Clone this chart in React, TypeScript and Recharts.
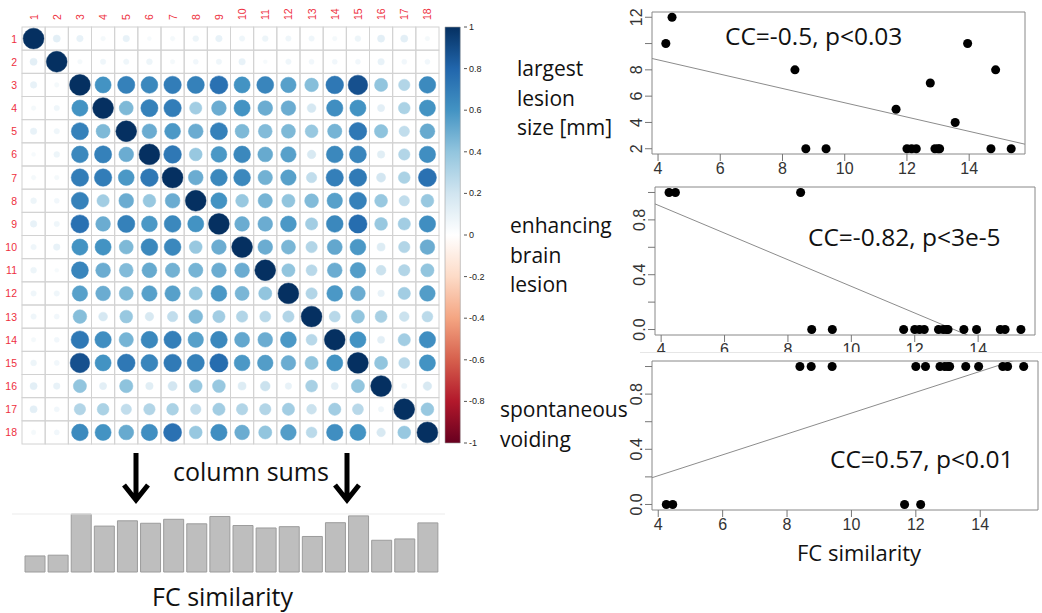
import React from 'react';
import {
  ScatterChart,
  Scatter,
  XAxis,
  YAxis,
  ReferenceArea,
  ReferenceLine,
  BarChart,
  Bar,
} from 'recharts';

// ---------------- data ----------------
const varIds = [1, 2, 3, 4, 5, 6, 7, 8, 9, 10, 11, 12, 13, 14, 15, 16, 17, 18];

const corrMatrix = [
  [1, .12, .10, .05, .10, .04, .05, .08, .10, .07, .08, .07, .07, .05, .08, .12, .12, .05],
  [.12, 1, .05, .07, .07, .08, .05, .06, .07, .10, .04, .07, .06, .06, .06, .10, .06, .06],
  [.10, .05, 1, .60, .68, .65, .70, .68, .75, .60, .66, .55, .43, .72, .88, .40, .30, .64],
  [.05, .07, .60, 1, .45, .68, .70, .35, .50, .60, .50, .50, .18, .62, .60, .12, .32, .60],
  [.10, .07, .68, .45, 1, .50, .58, .50, .68, .45, .44, .45, .38, .47, .72, .41, .25, .51],
  [.04, .08, .65, .68, .50, 1, .72, .38, .58, .65, .51, .55, .17, .65, .66, .13, .30, .62],
  [.05, .05, .70, .70, .58, .72, 1, .50, .65, .65, .48, .55, .25, .69, .71, .19, .32, .75],
  [.08, .06, .68, .35, .50, .38, .50, 1, .60, .38, .47, .40, .44, .55, .68, .38, .25, .38],
  [.10, .07, .75, .50, .68, .58, .65, .60, 1, .50, .50, .58, .35, .65, .77, .38, .35, .62],
  [.07, .10, .60, .60, .45, .65, .65, .38, .50, 1, .50, .46, .30, .52, .58, .15, .30, .50],
  [.08, .04, .66, .50, .44, .51, .48, .47, .50, .50, 1, .40, .28, .50, .56, .22, .30, .40],
  [.07, .07, .55, .50, .45, .55, .55, .40, .58, .46, .40, 1, .30, .58, .50, .10, .35, .56],
  [.07, .06, .43, .18, .38, .17, .25, .44, .35, .30, .28, .30, 1, .28, .40, .33, .22, .27],
  [.05, .06, .72, .62, .47, .65, .69, .55, .65, .52, .50, .58, .28, 1, .60, .12, .35, .62],
  [.08, .06, .88, .60, .72, .66, .71, .68, .77, .58, .56, .50, .40, .60, 1, .40, .28, .60],
  [.12, .10, .40, .12, .41, .13, .19, .38, .38, .15, .22, .10, .33, .12, .40, 1, .07, .17],
  [.12, .06, .30, .32, .25, .30, .32, .25, .35, .30, .30, .35, .22, .35, .28, .07, 1, .38],
  [.05, .06, .64, .60, .51, .62, .75, .38, .62, .50, .40, .56, .27, .62, .60, .17, .38, 1],
];

// FC similarity (column sums) per subject / column
const fcSimilarity = [4.25, 4.45, 15.35, 12.15, 13.55, 12.9, 13.95, 12.75, 14.7, 12.3, 11.65, 12.0, 9.4, 13.05, 14.85, 8.4, 8.75, 13.0];
const lesionSize = [10, 12, 2, 2, 4, 2, 10, 7, 2, 2, 5, 2, 2, 2, 8, 8, 2, 2];
const enhancingLesion = [1, 1, 0, 0, 0, 0, 0, 0, 0, 0, 0, 0, 0, 0, 0, 1, 0, 0];
const spontaneousVoiding = [0, 0, 1, 0, 1, 1, 1, 1, 1, 1, 0, 1, 1, 1, 1, 1, 1, 1];

const colorbarTicks = [1, 0.8, 0.6, 0.4, 0.2, 0, -0.2, -0.4, -0.6, -0.8, -1];
const scatterXTicks = [4, 6, 8, 10, 12, 14];
const lesionTicks = [2, 4, 6, 8, 10, 12];
const lesionTickLabels = ['2', '4', '6', '8', '', '12'];
const binaryTicks = [0, 0.2, 0.4, 0.6, 0.8, 1];
const binaryTickLabels = ['0.0', '', '0.4', '', '0.8', ''];

// ---------------- styling helpers ----------------
const RDBU = ['#67001F', '#B2182B', '#D6604D', '#F4A582', '#FDDBC7', '#FFFFFF', '#D1E5F0', '#92C5DE', '#4393C3', '#2166AC', '#053061'];

function hexToRgb(h: string) {
  return [parseInt(h.slice(1, 3), 16), parseInt(h.slice(3, 5), 16), parseInt(h.slice(5, 7), 16)];
}
function corrColor(v: number) {
  const t = ((v + 1) / 2) * 10;
  const i = Math.max(0, Math.min(9, Math.floor(t)));
  const f = t - i;
  const a = hexToRgb(RDBU[i]);
  const b = hexToRgb(RDBU[i + 1]);
  const c = a.map((x, k) => Math.round(x + (b[k] - x) * f));
  return `rgb(${c[0]},${c[1]},${c[2]})`;
}

const TEXT_FONT = "'Open Sans', 'Noto Sans', sans-serif";
const R_FONT = "'Liberation Sans', Arial, sans-serif";
const LABEL_RED = '#ee3040';

// ---------------- corrplot ----------------
const CORR_PLOT = { left: 22, top: 27, size: 417 };
const CELL = CORR_PLOT.size / 18;

const corrCells = corrMatrix.flatMap((row, r) =>
  row.map((v, c) => ({ col: varIds[c], row: varIds[r], v }))
);

const CorrCell = (props: any) => {
  const { cx, cy, payload } = props;
  const v = payload.v;
  const rad = 0.45 * CELL * Math.sqrt(Math.abs(v));
  return (
    <g>
      <rect x={cx - CELL / 2} y={cy - CELL / 2} width={CELL} height={CELL} fill="none" stroke="#d2d2d2" strokeWidth={1} />
      <circle cx={cx} cy={cy} r={rad} fill={corrColor(v)} stroke={corrColor(v)} strokeWidth={0.5} />
    </g>
  );
};

const ColLabel = (props: any) => {
  const { x, payload } = props;
  const y0 = CORR_PLOT.top - 7;
  return (
    <text
      x={x}
      y={y0}
      transform={`rotate(-90 ${x} ${y0})`}
      textAnchor="start"
      dominantBaseline="central"
      fontSize={10.5}
      fontFamily={R_FONT}
      fill={LABEL_RED}
    >
      {payload.value}
    </text>
  );
};

const RowLabel = (props: any) => {
  const { y, payload } = props;
  return (
    <text x={CORR_PLOT.left - 5} y={y} textAnchor="end" dominantBaseline="central" fontSize={10.5} fontFamily={R_FONT} fill={LABEL_RED}>
      {payload.value}
    </text>
  );
};

const CorrPlot = () => (
  <div style={{ position: 'absolute', left: 0, top: 0 }}>
    <ScatterChart width={450} height={450} margin={{ top: 0, right: 450 - CORR_PLOT.left - CORR_PLOT.size, bottom: 450 - CORR_PLOT.top - CORR_PLOT.size, left: 0 }}>
      <XAxis
        type="number"
        dataKey="col"
        orientation="top"
        domain={[0.5, 18.5]}
        ticks={varIds}
        interval={0}
        height={CORR_PLOT.top}
        axisLine={false}
        tickLine={false}
        tickSize={0}
        tickMargin={0}
        tick={<ColLabel />}
      />
      <YAxis
        type="number"
        dataKey="row"
        reversed
        domain={[0.5, 18.5]}
        ticks={varIds}
        interval={0}
        width={CORR_PLOT.left}
        axisLine={false}
        tickLine={false}
        tickSize={0}
        tickMargin={0}
        tick={<RowLabel />}
      />
      <Scatter data={corrCells} shape={CorrCell} isAnimationActive={false} />
    </ScatterChart>
  </div>
);

// ---------------- colorbar ----------------
const colorbarData = [{ name: 'corr', range: [-1, 1] }];

const CbTick = (props: any) => {
  const { x, y, payload } = props;
  return (
    <g>
      <line x1={x + 3} x2={x + 6} y1={y} y2={y} stroke="#555" strokeWidth={1} />
      <text x={x + 8} y={y} dominantBaseline="central" fontSize={9} fontFamily={R_FONT} fill="#222">
        {String(payload.value)}
      </text>
    </g>
  );
};

const ColorBar = () => (
  <div style={{ position: 'absolute', left: 444, top: 0 }}>
    <BarChart width={60} height={450} data={colorbarData} margin={{ top: 27, right: 0, bottom: 7, left: 0 }} barCategoryGap={0}>
      <defs>
        <linearGradient id="cbGrad" x1="0" y1="0" x2="0" y2="1">
          {RDBU.slice().reverse().map((c, i) => (
            <stop key={i} offset={`${i * 10}%`} stopColor={c} />
          ))}
        </linearGradient>
      </defs>
      <XAxis dataKey="name" hide />
      <YAxis
        orientation="right"
        type="number"
        domain={[-1, 1]}
        ticks={colorbarTicks}
        interval={0}
        width={43}
        axisLine={false}
        tickLine={false}
        tickSize={0}
        tickMargin={0}
        tick={<CbTick />}
      />
      <Bar dataKey="range" fill="url(#cbGrad)" stroke="#a0a0a0" strokeWidth={0.6} barSize={17} isAnimationActive={false} />
    </BarChart>
  </div>
);

// ---------------- column sums bar chart ----------------
const fcBars = fcSimilarity.map((fc, i) => ({ col: varIds[i], fc }));
const fcMax = Math.max(...fcSimilarity);

const ColumnSums = () => (
  <div style={{ position: 'absolute', left: 0, top: 505 }}>
    <BarChart width={460} height={80} data={fcBars} margin={{ top: 9, right: 15, bottom: 13, left: 12 }}>
      <XAxis dataKey="col" hide padding={{ left: 11, right: 6 }} />
      <YAxis hide domain={[0, fcMax]} />
      <ReferenceLine y={fcMax} stroke="#ebebeb" strokeWidth={1} />
      <Bar dataKey="fc" fill="#bebebe" stroke="#9c9c9c" strokeWidth={1} barSize={20} isAnimationActive={false} />
    </BarChart>
  </div>
);

// ---------------- scatter panels ----------------
function rangePad(vals: number[]) {
  const mn = Math.min(...vals);
  const mx = Math.max(...vals);
  const p = (mx - mn) * 0.04;
  return [mn - p, mx + p];
}
function olsFit(xs: number[], ys: number[]) {
  const n = xs.length;
  const mx = xs.reduce((a, b) => a + b, 0) / n;
  const my = ys.reduce((a, b) => a + b, 0) / n;
  let sxy = 0;
  let sxx = 0;
  for (let i = 0; i < n; i++) {
    sxy += (xs[i] - mx) * (ys[i] - my);
    sxx += (xs[i] - mx) * (xs[i] - mx);
  }
  const b = sxy / sxx;
  return { a: my - b * mx, b };
}

const RotYTick = (props: any) => {
  const { x, y, payload, labels, ticks } = props;
  const idx = ticks.indexOf(payload.value);
  const label = labels[idx];
  if (!label) return null;
  return (
    <text x={x} y={y} transform={`rotate(-90 ${x} ${y})`} textAnchor="middle" fontSize={16} fontFamily={R_FONT} fill="#333">
      {label}
    </text>
  );
};

type PanelProps = {
  box: { left: number; top: number; right: number; bottom: number };
  ys: number[];
  yTicks: number[];
  yLabels: string[];
};

const ScatterPanel = ({ box, ys, yTicks, yLabels }: PanelProps) => {
  const yAxisW = 40;
  const padTop = 10;
  const padRight = 4;
  const xAxisH = 30;
  const width = box.right - box.left + yAxisW + padRight;
  const height = box.bottom - box.top + padTop + xAxisH;
  const xDom = rangePad(fcSimilarity);
  const yDom = rangePad(ys);
  const pts = fcSimilarity.map((x, i) => ({ x, y: ys[i] }));
  const fit = olsFit(fcSimilarity, ys);
  return (
    <div style={{ position: 'absolute', left: box.left - yAxisW, top: box.top - padTop }}>
      <ScatterChart width={width} height={height} margin={{ top: padTop, right: padRight, bottom: 0, left: 0 }}>
        <XAxis
          type="number"
          dataKey="x"
          domain={xDom}
          allowDataOverflow
          ticks={scatterXTicks}
          interval={0}
          height={xAxisH}
          axisLine={false}
          tickLine={{ stroke: '#777' }}
          tickSize={7}
          tickMargin={2}
          tick={{ fontSize: 16, fontFamily: R_FONT, fill: '#333' }}
        />
        <YAxis
          type="number"
          dataKey="y"
          domain={yDom}
          allowDataOverflow
          ticks={yTicks}
          interval={0}
          width={yAxisW}
          axisLine={false}
          tickLine={{ stroke: '#777' }}
          tickSize={7}
          tickMargin={3}
          tick={<RotYTick labels={yLabels} ticks={yTicks} />}
        />
        <ReferenceArea x1={xDom[0]} x2={xDom[1]} y1={yDom[0]} y2={yDom[1]} fill="none" fillOpacity={0} stroke="#888" strokeWidth={1} ifOverflow="visible" />
        <ReferenceLine
          segment={[
            { x: xDom[0], y: fit.a + fit.b * xDom[0] },
            { x: xDom[1], y: fit.a + fit.b * xDom[1] },
          ]}
          stroke="#8c8c8c"
          strokeWidth={1}
          ifOverflow="hidden"
        />
        <Scatter data={pts} fill="#000" isAnimationActive={false} />
      </ScatterChart>
    </div>
  );
};

// ---------------- annotations ----------------
const T = (p: any) => (
  <text fontFamily={TEXT_FONT} fill="#111" {...p} />
);

const Annotations = () => (
  <svg width={1042} height={613} style={{ position: 'absolute', left: 0, top: 0, pointerEvents: 'none' }}>
    {/* arrows */}
    <g stroke="#000" strokeWidth={5} fill="none" strokeLinejoin="miter">
      <path d="M136 453 L136 499 M124 485 L136 500 L148 485" />
      <path d="M347 453 L347 499 M335 485 L347 500 L359 485" />
    </g>
    <T x={173} y={481} fontSize={25}>column sums</T>
    <T x={152} y={606} fontSize={25}>FC similarity</T>

    <T x={517} y={76} fontSize={21}>largest</T>
    <T x={517} y={105.5} fontSize={21}>lesion</T>
    <T x={517} y={135} fontSize={21}>size [mm]</T>
    <T x={725} y={45} fontSize={24.5}>CC=-0.5, p&lt;0.03</T>

    <T x={510} y={233} fontSize={21}>enhancing</T>
    <T x={510} y={262.5} fontSize={21}>brain</T>
    <T x={510} y={292} fontSize={21}>lesion</T>
    <T x={808} y={246} fontSize={24.5}>CC=-0.82, p&lt;3e-5</T>

    <T x={500} y={417} fontSize={21}>spontaneous</T>
    <T x={500} y={447} fontSize={21}>voiding</T>
    <T x={830} y={468} fontSize={24.5}>CC=0.57, p&lt;0.01</T>
    <T x={797} y={561} fontSize={22}>FC similarity</T>
  </svg>
);

export default function App() {
  return (
    <div style={{ position: 'absolute', left: 0, top: 0, width: 1042, height: 613, background: '#fff', overflow: 'hidden' }}>
      <CorrPlot />
      <ColorBar />
      <ColumnSums />
      <ScatterPanel box={{ left: 652, top: 12, right: 1025, bottom: 154 }} ys={lesionSize} yTicks={lesionTicks} yLabels={lesionTickLabels} />
      <ScatterPanel box={{ left: 655, top: 187, right: 1035, bottom: 335 }} ys={enhancingLesion} yTicks={binaryTicks} yLabels={binaryTickLabels} />
      <div style={{ position: 'absolute', left: 640, top: 352, width: 402, height: 261, background: '#fff', borderTop: '1px solid #e6e6e6' }} />
      <ScatterPanel box={{ left: 652, top: 361, right: 1038, bottom: 510 }} ys={spontaneousVoiding} yTicks={binaryTicks} yLabels={binaryTickLabels} />
      <Annotations />
    </div>
  );
}
